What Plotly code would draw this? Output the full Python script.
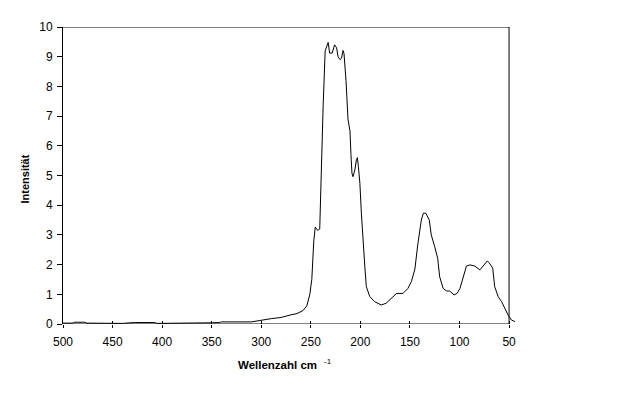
import plotly.graph_objects as go

wavenumber = [500, 490, 488, 478, 476, 460, 440, 428, 408, 405, 380, 369, 350, 342, 340, 310, 305, 298,
              290, 280, 275, 270, 264, 258, 254, 251, 249, 247, 245.5, 243, 241, 239.5, 237.5,
              235.5, 234, 232.5, 231, 228.5, 226, 224, 222.5, 220.5, 219, 217.5, 216.5, 214.5,
              212.5, 210.5, 209.5, 208.5, 207.5, 205.5, 204, 203, 202, 200.5, 199, 197.5, 195.5,
              194, 190.5, 185.5, 179, 174, 168.5, 163.5, 157, 152, 148.5, 145, 142, 138.5, 136.5,
              134, 130.5, 128.5, 125, 122, 120, 116.5, 113, 110, 105.5, 102.5, 99.5, 96.5, 93,
              89.5, 84.5, 79.5, 76, 72, 70, 66.5, 64.5, 61, 57.5, 54.5, 51, 47.5, 44]
intensity = [0.03, 0.03, 0.06, 0.06, 0.03, 0.02, 0.02, 0.05, 0.05, 0.02, 0.02, 0.04, 0.04, 0.05, 0.07, 0.07, 0.1, 0.15,
             0.18, 0.22, 0.27, 0.31, 0.35, 0.45, 0.61, 1.0, 1.5, 2.8, 3.26, 3.15, 3.2, 5.4, 7.4,
             9.2, 9.35, 9.48, 9.12, 9.12, 9.40, 9.3, 9.0, 8.9, 8.95, 9.21, 9.1, 8.2,
             6.9, 6.5, 5.7, 5.08, 4.96, 5.19, 5.53, 5.6, 5.3, 4.74, 3.73, 2.83, 1.93,
             1.26, 0.92, 0.75, 0.64, 0.7, 0.87, 1.03, 1.03, 1.2, 1.43, 1.85, 2.7, 3.5, 3.73,
             3.73, 3.5, 3.0, 2.6, 2.21, 1.59, 1.2, 1.11, 1.11, 0.98, 1.03, 1.2, 1.59, 1.95,
             1.99, 1.95, 1.82, 1.95, 2.12, 2.06, 1.88, 1.26, 0.92, 0.75, 0.53, 0.3, 0.13, 0.08]

x_ticks = [500, 450, 400, 350, 300, 250, 200, 150, 100, 50]
y_ticks = [0, 1, 2, 3, 4, 5, 6, 7, 8, 9, 10]
x_min, x_max = 50, 500
y_min, y_max = 0, 10

FONT = "Liberation Sans, Arial, sans-serif"

fig = go.Figure()
fig.add_trace(go.Scatter(x=wavenumber, y=intensity, mode="lines",
                         line=dict(color="black", width=1), showlegend=False, hoverinfo="skip"))
fig.add_trace(go.Scatter(x=[None], y=[None], xaxis="x2", showlegend=False, hoverinfo="skip"))

xrange = [500, 43]
fig.update_layout(
    width=622, height=394,
    margin=dict(l=63, r=106, t=27, b=70),
    paper_bgcolor="white", plot_bgcolor="white",
    font=dict(family=FONT, size=12, color="black"),
    xaxis=dict(range=xrange, tickvals=x_ticks, ticks="outside", ticklen=3, tickcolor="black",
               tickwidth=1, showline=False, showgrid=False, zeroline=False, ticklabelstandoff=4,
               tickfont=dict(family=FONT, size=12, color="black")),
    xaxis2=dict(range=xrange, overlaying="x", anchor="y", side="bottom", tickvals=x_ticks,
                ticks="inside", ticklen=3, tickcolor="black", showticklabels=False,
                showline=False, showgrid=False, zeroline=False),
    yaxis=dict(range=[y_min, y_max], tickvals=y_ticks, ticks="outside", ticklen=5, tickcolor="black",
               showline=True, linecolor="black", linewidth=1, showgrid=False, zeroline=False,
               ticklabelstandoff=2,
               tickfont=dict(family=FONT, size=12, color="black")),
)

# frame: bottom, top, right
line = dict(color="black", width=1)
fig.add_shape(type="line", xref="x", yref="y", x0=x_max, x1=x_min, y0=y_min, y1=y_min, line=line)
fig.add_shape(type="line", xref="x", yref="y", x0=x_max, x1=x_min, y0=y_max, y1=y_max, line=line)
fig.add_shape(type="line", xref="x", yref="y", x0=x_min, x1=x_min, y0=y_min, y1=y_max, line=line)

plot_h = 394 - 27 - 70
fig.update_layout(annotations=[
    dict(x=(x_min + x_max) / 2, xref="x", xshift=-9, y=-41 / plot_h, yref="paper", yanchor="middle",
         text="<b>Wellenzahl cm</b>", showarrow=False, xanchor="center",
         font=dict(family=FONT, size=11.5, color="black")),
    dict(x=(x_min + x_max) / 2, xref="x", y=-37 / plot_h, yref="paper", xshift=42, yanchor="middle",
         text="-1", showarrow=False, xanchor="center",
         font=dict(family=FONT, size=8, color="black")),
    dict(x=-38 / 453, xref="paper", y=0.5 - 4 / plot_h, yref="paper", textangle=-90,
         text="<b>Intensität</b>", showarrow=False, xanchor="center", yanchor="middle",
         font=dict(family=FONT, size=11, color="black")),
])

fig.write_html("out.html")
